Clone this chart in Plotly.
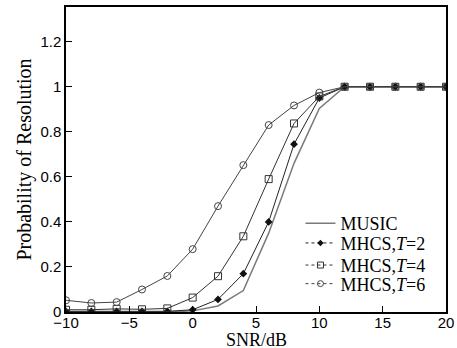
import plotly.graph_objects as go

snr = [-10, -8, -6, -4, -2, 0, 2, 4, 6, 8, 10, 12, 14, 16, 18, 20]
music = [0.0, 0.0, 0.0, 0.0, 0.0, 0.005, 0.027, 0.095, 0.35, 0.66, 0.904, 1.0, 1.0, 1.0, 1.0, 1.0]
mhcs_t2 = [0.003, 0.003, 0.003, 0.003, 0.003, 0.01, 0.056, 0.17, 0.40, 0.745, 0.95, 1.0, 1.0, 1.0, 1.0, 1.0]
mhcs_t4 = [0.01, 0.01, 0.014, 0.012, 0.016, 0.064, 0.159, 0.336, 0.59, 0.837, 0.957, 1.0, 1.0, 1.0, 1.0, 1.0]
mhcs_t6 = [0.052, 0.04, 0.044, 0.10, 0.16, 0.279, 0.47, 0.652, 0.83, 0.917, 0.974, 1.0, 1.0, 1.0, 1.0, 1.0]
names = ["MUSIC", "MHCS,<i>T</i>=2", "MHCS,<i>T</i>=4", "MHCS,<i>T</i>=6"]
x_title = "SNR/dB"
y_title = "Probability of Resolution"

serif = "Liberation Serif, Times New Roman, serif"
sans = "Liberation Sans, Arial, sans-serif"

fig = go.Figure()

# plotted curves (solid thin lines)
fig.add_trace(go.Scatter(x=snr, y=music, mode="lines", showlegend=False,
                         line=dict(color="#7a7a7a", width=1.5)))
fig.add_trace(go.Scatter(x=snr, y=mhcs_t2, mode="lines+markers", showlegend=False,
                         line=dict(color="#222222", width=1),
                         marker=dict(symbol="diamond", size=6, color="#111111")))
fig.add_trace(go.Scatter(x=snr, y=mhcs_t4, mode="lines+markers", showlegend=False,
                         line=dict(color="#333333", width=1),
                         marker=dict(symbol="square-open", size=7, color="#333333",
                                     line=dict(width=1))))
fig.add_trace(go.Scatter(x=snr, y=mhcs_t6, mode="lines+markers", showlegend=False,
                         line=dict(color="#444444", width=1),
                         marker=dict(symbol="circle-open", size=7, color="#444444",
                                     line=dict(width=1))))

# legend entries, one legend per row so the row spacing can match
legend_ids = ["legend", "legend2", "legend3", "legend4"]
fig.add_trace(go.Scatter(x=[None], y=[None], mode="lines", name=names[0], legend=legend_ids[0],
                         line=dict(color="#7a7a7a", width=1.5)))
fig.add_trace(go.Scatter(x=[None], y=[None], mode="lines+markers", name=names[1], legend=legend_ids[1],
                         line=dict(color="#222222", width=1, dash="dot"),
                         marker=dict(symbol="diamond", size=5, color="#111111")))
fig.add_trace(go.Scatter(x=[None], y=[None], mode="lines+markers", name=names[2], legend=legend_ids[2],
                         line=dict(color="#333333", width=1, dash="dot"),
                         marker=dict(symbol="square-open", size=6, color="#333333",
                                     line=dict(width=1))))
fig.add_trace(go.Scatter(x=[None], y=[None], mode="lines+markers", name=names[3], legend=legend_ids[3],
                         line=dict(color="#444444", width=1, dash="dot"),
                         marker=dict(symbol="circle-open", size=6, color="#444444",
                                     line=dict(width=1))))

legend_rows_y = [0.290, 0.2255, 0.153, 0.092]
legend_common = dict(x=0.617, xanchor="left", yanchor="middle",
                     bgcolor="rgba(0,0,0,0)", borderwidth=0,
                     font=dict(family=serif, size=18, color="black"),
                     itemwidth=30)
legend_layout = {lid: dict(y=yy, **legend_common) for lid, yy in zip(legend_ids, legend_rows_y)}

fig.update_layout(
    width=457, height=348,
    margin=dict(l=66, r=11, t=7, b=36),
    paper_bgcolor="white", plot_bgcolor="white",
    font=dict(family=sans, size=15, color="black"),
    xaxis=dict(range=[-10, 20], tickvals=[-10, -5, 0, 5, 10, 15, 20],
               ticks="inside", ticklen=6, tickcolor="black", tickwidth=1,
               showline=True, linecolor="black", linewidth=1.5, mirror=True,
               showgrid=False, zeroline=False, automargin=False,
               ticklabelstandoff=-4,
               tickfont=dict(family=sans, size=15)),
    yaxis=dict(range=[0, 1.354], tickvals=[0, 0.2, 0.4, 0.6, 0.8, 1, 1.2],
               ticktext=["0", "0.2", "0.4", "0.6", "0.8", "1", "1.2"],
               ticks="inside", ticklen=6, tickcolor="black", tickwidth=1,
               showline=True, linecolor="black", linewidth=1.5, mirror=True,
               showgrid=False, zeroline=False, automargin=False,
               tickfont=dict(family=sans, size=15),
               title=dict(text=y_title, font=dict(family=serif, size=20), standoff=3)),
    annotations=[dict(text=x_title, xref="paper", yref="paper", x=0.5, y=-0.055,
                      xanchor="center", yanchor="top", showarrow=False, borderpad=0,
                      font=dict(family=serif, size=18, color="black"))],
    **legend_layout,
)

fig.write_html("out.html", config={"displayModeBar": False},
               post_script="document.body.style.margin='0px';document.body.style.overflow='hidden';")
